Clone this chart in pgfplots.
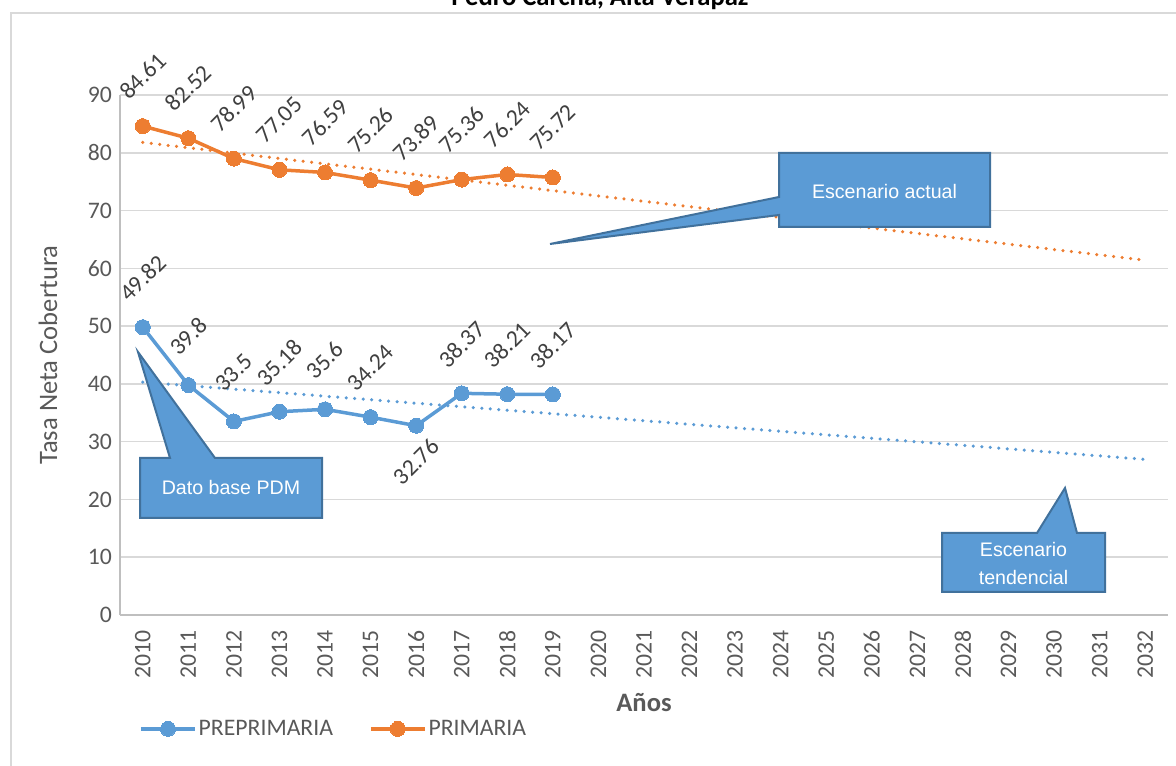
\documentclass[border=0pt]{standalone}
\usepackage{fontspec}
\setmainfont{Carlito}
\newfontfamily\arialf{Liberation Sans}
\usepackage{pgfplots}
\pgfplotsset{compat=1.18}
\definecolor{cblue}{HTML}{5B9BD5}
\definecolor{corange}{HTML}{ED7D31}
\definecolor{cborder}{HTML}{41719C}
\definecolor{cgrid}{HTML}{D9D9D9}
\definecolor{caxis}{HTML}{BFBFBF}
\definecolor{ctext}{HTML}{595959}
\definecolor{clabel}{HTML}{404040}
\newcommand\tickfont{\fontsize{23.7bp}{28bp}\selectfont}
\newcommand\titfont{\fontsize{26.6bp}{30bp}\selectfont}
\newcommand\callfont{\arialf\fontsize{19.6bp}{28bp}\selectfont}
\pgfplotsset{
  mylegimg/.style={legend image code/.code={\draw[mark repeat=2, mark phase=2, ##1] plot coordinates {(0bp,0bp)(27bp,0bp)(54bp,0bp)};}},
}

\begin{document}
\begin{tikzpicture}[x=1bp,y=1bp]
\draw[cgrid, line width=1.5bp] (11,-5) -- (11,753) -- (1185,753);
\node[anchor=base, font=\bfseries\titfont, text=black] at (600,760) {Pedro Carcha, Alta Verapaz};

\begin{axis}[
  at={(120bp,151bp)}, anchor=south west,
  scale only axis, width=1048bp, height=520bp,
  xmin=-0.5, xmax=22.5, ymin=0, ymax=90,
  clip=false,
  xtick={0,1,2,3,4,5,6,7,8,9,10,11,12,13,14,15,16,17,18,19,20,21,22},
  xticklabels={2010,2011,2012,2013,2014,2015,2016,2017,2018,2019,2020,2021,2022,2023,2024,2025,2026,2027,2028,2029,2030,2031,2032},
  ytick={0,10,20,30,40,50,60,70,80,90},
  /pgf/number format/assume math mode=true,
  ymajorgrids, major grid style={cgrid, line width=1.5bp},
  axis x line*=bottom, axis y line*=left,
  axis line style={caxis, line width=1.5bp, -},
  major tick length=0pt,
  tick label style={font=\tickfont, text=ctext},
  yticklabel style={anchor=east, inner sep=0pt, xshift=-8bp},
  xticklabel style={yshift=-15bp, rotate=90, anchor=east, inner sep=0pt},
  xlabel={Años},
  xlabel style={font=\bfseries\titfont, text=ctext, at={(axis description cs:0.5,-0.169)}, anchor=center},
  ylabel={Tasa Neta Cobertura},
  ylabel style={font=\titfont, text=ctext, at={(axis description cs:-0.0687,0.5)}, anchor=center},
  legend style={at={(axis description cs:0.0153,-0.219)}, anchor=west, draw=none, fill=none,
    legend columns=2, font=\tickfont, text=ctext,
    /tikz/every even column/.append style={column sep=34bp}},
  legend cell align=left,
  mylegimg,
]
\addplot[forget plot, corange, line width=3.5bp, line cap=round, dash pattern=on 0bp off 8.5bp] coordinates {(0,81.79) (22,61.40)};
\addplot[forget plot, cblue, line width=3.5bp, line cap=round, dash pattern=on 0bp off 8.5bp] coordinates {(0,40.30) (22,26.93)};
\addplot[cblue, line width=3.5bp, mark=*, mark size=7.5bp, mark options={fill=cblue, draw=cblue, line width=0bp}] coordinates {
(0,49.82) (1,39.8) (2,33.5) (3,35.18) (4,35.6) (5,34.24) (6,32.76) (7,38.37) (8,38.21) (9,38.17)};
\addlegendentry{PREPRIMARIA}
\addplot[corange, line width=3.5bp, mark=*, mark size=7.5bp, mark options={fill=corange, draw=corange, line width=0bp}] coordinates {
(0,84.61) (1,82.52) (2,78.99) (3,77.05) (4,76.59) (5,75.26) (6,73.89) (7,75.36) (8,76.24) (9,75.72)};
\addlegendentry{PRIMARIA}
\addplot[forget plot, draw=none, point meta=explicit symbolic, nodes near coords,
  every node near coord/.style={font=\tickfont, text=clabel, anchor=center, yshift=50bp, rotate=45}] coordinates {
(0,84.61)[84.61] (1,82.52)[82.52] (2,78.99)[78.99] (3,77.05)[77.05] (4,76.59)[76.59] (5,75.26)[75.26] (6,73.89)[73.89] (7,75.36)[75.36] (8,76.24)[76.24] (9,75.72)[75.72]};
\addplot[forget plot, draw=none, point meta=explicit symbolic, nodes near coords,
  every node near coord/.style={font=\tickfont, text=clabel, anchor=center, yshift=49bp, rotate=45}] coordinates {
(0,49.82)[49.82] (1,39.8)[39.8] (2,33.5)[33.5] (3,35.18)[35.18] (4,35.6)[35.6] (5,34.24)[34.24] (7,38.37)[38.37] (8,38.21)[38.21] (9,38.17)[38.17]};
\addplot[forget plot, draw=none, point meta=explicit symbolic, nodes near coords,
  every node near coord/.style={font=\tickfont, text=clabel, anchor=center, yshift=-36bp, rotate=45}] coordinates {
(6,32.76)[32.76]};
\end{axis}

\draw[fill=cblue, draw=cborder, line width=2bp, line join=miter]
  (779,613) -- (990,613) -- (990,539) -- (779,539) -- (779,551) -- (550,522) -- (779,569) -- cycle;
\node[text=white, font=\callfont] at (884.5,574) {Escenario actual};
\draw[fill=cblue, draw=cborder, line width=2bp, line join=miter]
  (140,308) -- (170,308) -- (138,414) -- (215,308) -- (322,308) -- (322,248) -- (140,248) -- cycle;
\node[text=white, font=\callfont] at (231,278) {Dato base PDM};
\draw[fill=cblue, draw=cborder, line width=2bp, line join=miter]
  (942,233) -- (1037,233) -- (1065,278) -- (1077,233) -- (1105,233) -- (1105,174) -- (942,174) -- cycle;
\node[text=white, font=\callfont, align=center] at (1023.5,202) {Escenario\\tendencial};
\pgfresetboundingbox
\useasboundingbox (0,0) rectangle (1176,766);
\end{tikzpicture}
\end{document}
